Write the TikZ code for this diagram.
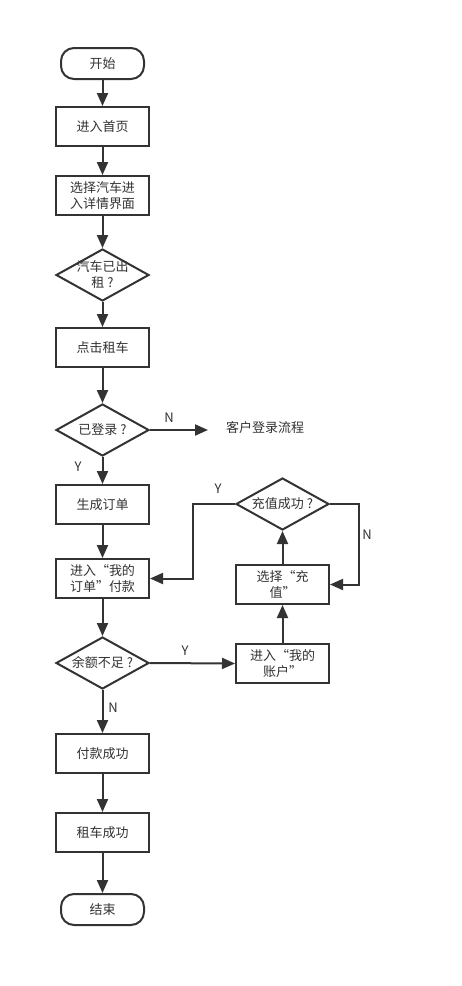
\documentclass[tikz,border=0pt]{standalone}
\usepackage{fontspec}
\setmainfont{Noto Sans CJK SC}
\usetikzlibrary{shapes.geometric,arrows.meta}
\definecolor{ln}{HTML}{333333}
\begin{document}
\begin{tikzpicture}[x=1pt,y=-1pt,
  every node/.style={font=\fontsize{13}{16}\selectfont, text=ln},
  base/.style={draw=ln, line width=2pt, fill=white, inner sep=0pt, align=center},
  proc/.style={base, minimum width=93pt, minimum height=39pt},
  term/.style={base, rounded corners=13pt, minimum width=83pt, minimum height=31pt},
  dec/.style={base, diamond, aspect=1.79, minimum width=93pt, minimum height=52pt},
  dectext/.style={inner sep=0pt, align=center, text=ln},
  lbl/.style={inner sep=0pt},
  conn/.style={draw=ln, line width=2pt, -{Triangle[length=13pt,width=11pt]}}]
\fill[white] (0,0) rectangle (461,986);
\useasboundingbox (0,0) rectangle (461,986);

\node[term] (start) at (102.5,63.5) {开始};
\node[proc] (home) at (102.5,126.5) {进入首页};
\node[proc] (select) at (102.5,195.5) {选择汽车进\\入详情界面};
\node[dec, label={[dectext]center:汽车已出\\租 ?}] (rented) at (102.5,275) {};
\node[proc] (click) at (102.5,347.5) {点击租车};
\node[dec, label={[dectext]center:已登录 ?}] (logged) at (102.5,430) {};
\node[lbl] (login) at (265,428) {客户登录流程};
\coordinate (loginend) at (208,430);
\node[proc] (order) at (102.5,504.5) {生成订单};
\node[proc] (pay) at (102.5,578.5) {进入“我的\\订单”付款};
\node[dec, label={[dectext]center:余额不足 ?}] (balance) at (102.5,663) {};
\node[proc] (paid) at (102.5,753.5) {付款成功};
\node[proc] (done) at (102.5,832.5) {租车成功};
\node[term] (end) at (102.5,909.5) {结束};

\node[dec, label={[dectext]center:充值成功 ?}] (rok) at (282.5,504) {};
\node[proc] (recharge) at (282.5,584.5) {选择“充\\值”};
\node[proc] (account) at (282.5,663.5) {进入“我的\\账户”};

\draw[conn] (start) -- (home);
\draw[conn] (home) -- (select);
\draw[conn] (select) -- (rented);
\draw[conn] (rented) -- (click);
\draw[conn] (click) -- (logged);
\draw[conn] (logged.east) -- (loginend);
\draw[conn] (logged) -- (order);
\draw[conn] (order) -- (pay);
\draw[conn] (pay) -- (balance);
\draw[conn] (balance) -- (paid);
\draw[conn] (paid) -- (done);
\draw[conn] (done) -- (end);
\draw[conn] (balance.east) -- (account.west);
\draw[conn] (account) -- (recharge);
\draw[conn] (recharge) -- (rok);
\draw[conn] (rok.east) -- (359,504) |- (recharge.east);
\draw[conn] (rok.west) -- (193,504) |- (pay.east);

\node[lbl] (nlog) at (169,418) {N};
\node[lbl] (ylog) at (78,467) {Y};
\node[lbl] (yok) at (218,489) {Y};
\node[lbl] (nok) at (367,535) {N};
\node[lbl] (ybal) at (185,651) {Y};
\node[lbl] (nbal) at (113,708) {N};
\end{tikzpicture}
\end{document}
